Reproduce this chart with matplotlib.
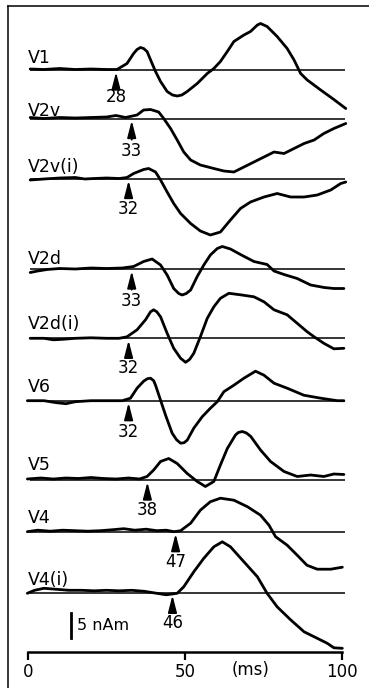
import matplotlib
matplotlib.use("Agg")
import matplotlib.pyplot as plt
from matplotlib.lines import Line2D

plt.rcParams['font.family'] = ['DejaVu Sans']

# channel names and onset latencies (ms)
names = ["V1", "V2v", "V2v(i)", "V2d", "V2d(i)", "V6", "V5", "V4", "V4(i)"]
onsets = [28, 33, 32, 33, 32, 32, 38, 47, 46]

# waveforms: time (ms) and amplitude (nAm)
t_v1 = [0.6, 5, 10, 15, 20, 25, 28.3, 31.5, 33.6, 34.7, 35.8, 36.8, 37.9, 39.5, 40.6, 42.2, 44.3,
        46.0, 47.5, 49.0, 50.7, 53.9, 57.1, 59.2, 61.3, 63.5, 65.6, 68.8, 70.9, 73.1, 74.1, 76.2,
        79.4, 82.6, 84.8, 86.9, 89.0, 93.3, 97.5, 101.3]
a_v1 = [0.2, 0.1, 0.3, 0.1, 0.2, 0.1, 0.1, 1.3, 3.3, 4.1, 4.5, 4.3, 3.7, 1.3, -0.3, -2.3, -4.3,
        -5.0, -5.2, -5.0, -4.3, -2.7, -0.7, 0.3, 1.7, 3.7, 5.7, 7.0, 7.7, 9.0, 9.3, 8.7,
        6.7, 4.3, 2.0, -0.7, -2.0, -4.0, -5.9, -7.7]

t_v2v = [0.6, 5, 10, 15, 20, 25, 28, 31, 34.7, 36.8, 39.0, 41.6, 43.2, 45.4, 47.5, 49.6, 51.8,
         54.9, 59.2, 62.4, 65.6, 68.8, 72.0, 75.2, 78.4, 81.6, 84.8, 88.0, 91.2, 94.3, 97.5, 101.3]
a_v2v = [0.2, 0.0, 0.2, 0.1, 0.2, 0.3, 0.6, 0.2, 0.7, 1.7, 1.8, 1.3, 0.0, -2.0, -4.3, -6.7, -8.3,
         -9.3, -10.0, -10.5, -10.7, -9.7, -8.7, -7.7, -6.7, -7.0, -6.0, -5.0, -4.3, -3.0, -2.0, -1.0]

t_v2vi = [0.6, 5, 10, 15, 18, 21, 25, 29, 31.5, 33.6, 36.8, 38.4, 40.6, 42.2, 44.3, 46.4, 48.6,
          51.8, 54.9, 58.1, 61.3, 64.5, 67.7, 70.9, 75.2, 79.4, 83.7, 88.0, 92.2, 96.5, 99.7, 101.3]
a_v2vi = [-0.3, -0.1, 0.1, 0.2, -0.1, 0.0, 0.1, 0.0, 0.2, 1.0, 1.8, 2.0, 1.3, -0.3, -2.7, -5.0, -7.0,
          -9.0, -10.5, -11.3, -10.7, -8.3, -6.0, -4.7, -3.7, -3.0, -3.7, -3.7, -3.3, -2.3, -1.0, -0.7]

t_v2d = [0.6, 3, 6, 10, 15, 20, 25, 30, 33.6, 36.8, 39.5, 42.2, 44.3, 46.4, 48.0, 49.1, 50.4, 51.8,
         53.9, 56.0, 58.1, 60.3, 61.9, 64.5, 67.7, 72.0, 76.2, 78.4, 81.6, 85.8, 90.1, 94.4, 97.5,
         100.7]
a_v2d = [-0.7, -0.4, -0.1, 0.1, 0.0, 0.2, 0.1, 0.2, 0.5, 1.5, 2.0, 0.8, -1.2, -3.9, -4.9, -5.2, -4.9,
         -4.2, -1.5, 0.8, 2.8, 4.1, 4.5, 4.0, 2.9, 1.5, 0.9, -0.4, -1.1, -1.9, -3.2, -3.7, -3.9,
         -3.9]

t_v2di = [0.6, 5, 8, 11, 15, 20, 25, 29, 31.5, 34.7, 37.4, 39.0, 40.0, 41.0, 42.2, 44.3, 46.4,
          48.6, 50.2, 51.5, 52.8, 54.9, 57.1, 59.2, 61.3, 64.0, 67.7, 72.0, 75.2, 78.4, 82.6, 85.8,
          89.0, 91.2, 94.3, 97.5, 100.7]
a_v2di = [0.0, 0.0, -0.3, -0.2, 0.0, 0.1, 0.0, 0.0, 0.3, 1.7, 3.7, 5.3, 5.7, 5.3, 4.3, 1.0, -2.0,
          -4.0, -4.8, -4.2, -3.0, 0.3, 4.0, 6.3, 8.0, 9.0, 8.7, 8.3, 7.3, 5.7, 4.7, 3.0,
          1.3, 0.3, -1.0, -2.1, -2.0]

t_v6 = [-0.3, 5, 9, 12, 15, 20, 25, 30, 32.6, 34.7, 36.8, 38.0, 39.0, 40.0, 40.6, 42.2, 43.8, 45.9,
        47.3, 48.6, 49.7, 50.7, 52.8, 55.5, 58.1, 60.3, 62.4, 65.6, 68.8, 72.5, 75.2, 78.4, 82.6,
        87.9, 93.3, 98.6, 100.7]
a_v6 = [0.0, 0.0, -0.4, -0.6, -0.2, 0.0, 0.0, 0.0, 0.5, 2.5, 3.9, 4.4, 4.5, 4.0, 3.1, 0.1, -2.9, -6.5,
        -7.8, -8.5, -8.4, -7.9, -5.5, -3.2, -1.5, -0.2, 1.8, 3.1, 4.5, 5.9, 5.1, 3.5, 2.5,
        1.1, 0.5, 0.0, 0.0]

t_v5 = [-0.3, 4, 8, 12, 16, 20, 24, 28, 32, 35.5, 37.9, 40.0, 42.2, 44.8, 47.5, 50.7, 53.9,
        56.5, 59.2, 61.3, 63.5, 66.1, 67.0, 68.3, 69.6, 71.0, 74.1, 77.3, 81.6, 85.8, 90.1, 94.3,
        97.5, 100.7]
a_v5 = [0.2, 0.4, 0.2, 0.4, 0.3, 0.5, 0.3, 0.2, 0.4, 0.2, 0.7, 2.0, 3.7, 4.3, 3.3, 1.3, -0.3,
        -1.3, -0.3, 3.0, 6.3, 9.0, 9.5, 9.7, 9.4, 8.7, 6.0, 3.7, 1.7, 0.7, 1.0, 0.7,
        1.2, 1.1]

t_v4 = [-0.3, 3, 7, 11, 15, 19, 23, 27, 30.5, 34, 37.6, 41, 44, 46.5, 48.6, 51.8, 54.9, 58.1,
        61.3, 65.6, 69.9, 74.1, 76.8, 78.9, 82.6, 85.8, 88.9, 92.2, 96.5, 100.2]
a_v4 = [0.0, 0.3, 0.1, 0.3, 0.2, 0.1, 0.2, 0.4, 0.6, 0.3, 0.5, 0.2, 0.3, 0.0, 0.2, 1.7, 4.3, 6.0,
        6.7, 6.3, 5.0, 3.3, 1.3, -1.0, -2.7, -4.7, -6.7, -7.5, -7.5, -7.1]

t_v4i = [-0.3, 2, 5, 9, 13, 17, 21, 25, 29, 33, 37, 41, 44, 47.5, 49.6, 52.8, 56.0, 59.2, 61.9,
         64.5, 68.8, 73.1, 76.2, 79.4, 83.7, 88.0, 92.2, 95.4, 97.5, 100.2]
a_v4i = [0.0, 0.6, 1.0, 0.8, 0.6, 0.6, 0.5, 0.6, 0.5, 0.6, 0.4, 0.0, -0.3, 0.0, 1.3, 4.3, 7.0, 9.3,
         10.3, 9.3, 6.3, 3.3, 0.0, -2.7, -5.3, -7.7, -9.0, -10.0, -10.9, -11.0]

times = [t_v1, t_v2v, t_v2vi, t_v2d, t_v2di, t_v6, t_v5, t_v4, t_v4i]
amps = [a_v1, a_v2v, a_v2vi, a_v2d, a_v2di, a_v6, a_v5, a_v4, a_v4i]

# layout (pixels from top of a 688 px figure, 5 px per nAm)
H = 688
PX = 5.0
base_px = [70, 118.5, 178.5, 269, 338.3, 400.7, 480, 531.7, 593.3]
label_gap_px = [7, 3, 6.5, 5.5, 9.5, 9, 10, 8.5, 8.5]
num_drop_px = [27, 33, 30, 32.5, 30, 31, 30, 30, 30]

fig = plt.figure(figsize=(3.69, 6.88), dpi=100)
ax = fig.add_axes([0, 0, 1, 1])
x0, xs = 28.3, 3.134
ax.set_xlim(-x0 / xs, (369 - x0) / xs)
ax.set_ylim(0, H / PX)

for i, name in enumerate(names):
    base = (H - base_px[i]) / PX
    ax.hlines(base, 0.5, 101, color="black", lw=1.1)
    ax.plot(times[i], [base + a for a in amps[i]], color="black", lw=2.0,
            solid_joinstyle="round", solid_capstyle="round")
    ax.text(0, base + label_gap_px[i] / PX, name, fontsize=12.5, ha="left", va="baseline")
    ax.annotate(str(onsets[i]), xy=(onsets[i], base - 0.4),
                xytext=(onsets[i], base - num_drop_px[i] / PX),
                ha="center", va="center", fontsize=12,
                arrowprops=dict(arrowstyle="-|>,head_length=0.85,head_width=0.22",
                                color="black", lw=1.3, shrinkA=0, shrinkB=0))

# scale bar
ax.plot([13.6, 13.6], [10, 15], color="black", lw=2)
ax.text(15.5, 12.4, "5 nAm", fontsize=11.5, ha="left", va="center")

# time axis
for s in ["left", "right", "top"]:
    ax.spines[s].set_visible(False)
ax.spines["bottom"].set_position(("data", (H - 652.3) / PX))
ax.spines["bottom"].set_bounds(0, 100)
ax.spines["bottom"].set_linewidth(1.8)
ax.set_yticks([])
ax.set_xticks([0, 50, 100])
ax.set_xticklabels(["0", "50", "100"])
ax.tick_params(axis="x", direction="out", length=6, width=1.6, pad=2, labelsize=12)
ax.text(70.8, (H - 670) / PX, "(ms)", fontsize=12, ha="center", va="center")
ax.patch.set_visible(False)

# frame of the scanned panel
fig.add_artist(Line2D([8 / 369, 8 / 369], [0, 1 - 6 / H], color="black", lw=1.1))
fig.add_artist(Line2D([8 / 369, 1], [1 - 6 / H, 1 - 6 / H], color="black", lw=1.1))

fig.savefig("out.png", dpi=100)
